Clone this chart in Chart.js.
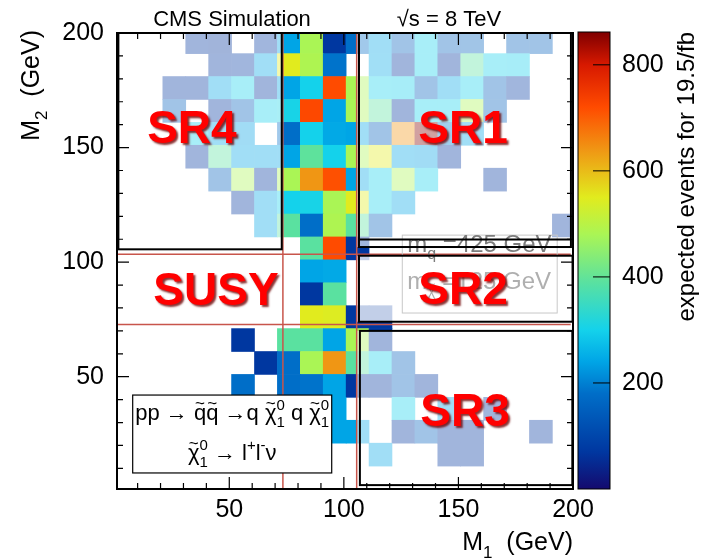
<!DOCTYPE html>
<html lang="en">
<head>
<meta charset="UTF-8">
<title>Expected events in the M1 - M2 plane</title>
<style>
  html, body { margin: 0; padding: 0; background: #fff; }
  #wrap { width: 701px; height: 560px; }
</style>
</head>
<body>
<div id="wrap"><canvas id="heat" width="701" height="560"></canvas></div>
<script src="https://cdn.jsdelivr.net/npm/chart.js@4.4.1/dist/chart.umd.min.js"></script>
<script>
const FONT = "'Liberation Sans', Arial, Helvetica, sans-serif";

// bin centres in GeV (10 GeV bins starting at 1 GeV)
const m1Centers = [6, 16, 26, 36, 46, 56, 66, 76, 86, 96, 106, 116, 126, 136, 146, 156, 166, 176, 186, 196];
// rows of the table below, top (M2 = 196) to bottom (M2 = 6)
const m2Centers = [196, 186, 176, 166, 156, 146, 136, 126, 116, 106, 96, 86, 76, 66, 56, 46, 36, 26, 16, 6];
// expected events for 19.5/fb, 0 = empty bin
const events = [
  [0, 0, 0, 70, 65, 0, 75, 240, 480, 70, 180, 240, 150, 300, 150, 155, 0, 150, 150, 0],
  [0, 0, 0, 0, 70, 75, 240, 550, 485, 185, 0, 245, 70, 300, 70, 390, 300, 295, 0, 0],
  [0, 0, 70, 70, 240, 300, 70, 240, 300, 720, 480, 300, 295, 150, 240, 300, 150, 75, 0, 0],
  [0, 0, 150, 0, 70, 150, 300, 305, 725, 240, 480, 390, 70, 300, 300, 480, 150, 0, 0, 0],
  [0, 0, 0, 300, 240, 235, 0, 180, 300, 245, 240, 150, 640, 860, 200, 240, 0, 0, 0, 0],
  [0, 0, 0, 70, 390, 240, 240, 240, 395, 300, 480, 550, 240, 235, 70, 0, 0, 0, 0, 0],
  [0, 0, 0, 0, 150, 480, 70, 480, 640, 715, 240, 300, 480, 300, 0, 0, 70, 0, 0, 0],
  [0, 0, 0, 0, 0, 70, 240, 300, 305, 480, 550, 300, 240, 0, 0, 0, 0, 0, 0, 0],
  [0, 0, 0, 0, 0, 0, 240, 390, 180, 485, 390, 150, 0, 0, 0, 0, 0, 0, 0, 70],
  [0, 0, 0, 0, 0, 0, 0, 0, 390, 720, 70, 0, 0, 0, 0, 0, 0, 0, 0, 0],
  [0, 0, 0, 0, 0, 0, 0, 0, 240, 245, 0, 0, 0, 0, 0, 0, 0, 0, 0, 0],
  [0, 0, 0, 0, 0, 0, 0, 0, 70, 390, 0, 0, 0, 0, 0, 0, 0, 0, 0, 0],
  [0, 0, 0, 0, 0, 0, 0, 0, 550, 545, 70, 70, 0, 0, 0, 0, 0, 0, 0, 0],
  [0, 0, 0, 0, 0, 70, 0, 390, 390, 240, 480, 70, 0, 0, 0, 0, 0, 0, 0, 0],
  [0, 0, 0, 0, 0, 0, 70, 180, 480, 640, 390, 300, 150, 0, 0, 0, 0, 0, 0, 0],
  [0, 0, 0, 0, 0, 180, 0, 180, 185, 240, 70, 70, 150, 70, 0, 0, 0, 0, 0, 0],
  [0, 0, 0, 0, 0, 0, 0, 0, 0, 240, 0, 0, 300, 0, 240, 0, 70, 0, 0, 0],
  [0, 0, 0, 0, 0, 0, 0, 0, 0, 240, 240, 0, 70, 150, 70, 70, 0, 0, 70, 0],
  [0, 0, 0, 0, 0, 0, 0, 0, 0, 0, 0, 240, 0, 0, 70, 70, 0, 0, 0, 0],
  [0, 0, 0, 0, 0, 0, 0, 0, 0, 0, 0, 0, 0, 0, 0, 0, 0, 0, 0, 0]
];
const m1Ticks = [50, 100, 150, 200];
const m2Ticks = [50, 100, 150, 200];
const zTicks = [200, 400, 600, 800];
const zMax = 860;

// palette stops: [events, r, g, b]
const palette = [
  [0, 20, 10, 110], [70, 0, 55, 160], [180, 0, 110, 200], [240, 0, 165, 230],
  [300, 20, 210, 235], [390, 90, 225, 160], [480, 170, 245, 85], [550, 225, 235, 30],
  [640, 240, 150, 20], [720, 255, 75, 0], [800, 215, 25, 0], [860, 130, 0, 0]
];
function colorFor(v) {
  for (let i = 1; i < palette.length; i++) {
    const p = palette[i - 1], q = palette[i];
    if (v <= q[0]) {
      const t = (v - p[0]) / (q[0] - p[0]);
      const c = [1, 2, 3].map(k => Math.round(p[k] + t * (q[k] - p[k])));
      return `rgb(${c[0]},${c[1]},${c[2]})`;
    }
  }
  const l = palette[palette.length - 1];
  return `rgb(${l[1]},${l[2]},${l[3]})`;
}

// annotation geometry, GeV
const fadedRegions = [
  { x0: 1, x1: 73.4, y0: 105.6, y1: 200, alpha: 0.63 },
  { x0: 105.6, x1: 200, y0: 106.6, y1: 200, alpha: 0.63 },
  { x0: 105.6, x1: 200, y0: 74.0, y1: 102.8, alpha: 0.76 },
  { x0: 105.6, x1: 200, y0: 1, y1: 70, alpha: 0.63 }
];
const srBoxes = [
  [1.6, 72.9, 105.6, 200],
  [106.6, 199.1, 106.6, 200],
  [106.6, 199.8, 74.0, 102.8],
  [107.0, 199.7, 2.7, 70.0]
];
const redM1 = [73.4, 105.6];
const redM2 = [103.5, 72.8];
const srLabels = [
  { text: 'SR4', m1: 33.7, m2: 157.7 },
  { text: 'SR1', m1: 152, m2: 157.7 },
  { text: 'SUSY', m1: 44.2, m2: 87 },
  { text: 'SR2', m1: 152, m2: 87.4 },
  { text: 'SR3', m1: 152.9, m2: 34.2 }
];

const cells = [];
const cellColors = [];
events.forEach((row, i) => {
  row.forEach((v, j) => {
    if (v > 0) {
      cells.push({ x: m1Centers[j], y: [m2Centers[i] - 5, m2Centers[i] + 5] });
      cellColors.push(colorFor(v));
    }
  });
});

// text with tildes and super/subscripts
// part: 'text' | {t, tilde} | {sup, sub, tilde}
function drawRich(ctx, parts, x, y, size, align) {
  const base = `${size}px ${FONT}`;
  const small = `${Math.round(size * 0.68)}px ${FONT}`;
  const widthOf = p => {
    if (typeof p === 'string') { ctx.font = base; return ctx.measureText(p).width; }
    if (p.t) { ctx.font = base; return ctx.measureText(p.t).width; }
    ctx.font = small;
    return Math.max(p.sup ? ctx.measureText(p.sup).width : 0, p.sub ? ctx.measureText(p.sub).width : 0);
  };
  const tildeAt = (cx, ty, fs) => {
    ctx.font = `${fs}px ${FONT}`;
    ctx.textAlign = 'center';
    ctx.fillText('~', cx, ty);
    ctx.textAlign = 'left';
  };
  const total = parts.reduce((s, p) => s + widthOf(p), 0);
  let cx = align === 'center' ? x - total / 2 : align === 'right' ? x - total : x;
  ctx.textAlign = 'left';
  ctx.textBaseline = 'alphabetic';
  parts.forEach(p => {
    const w = widthOf(p);
    if (typeof p === 'string') {
      ctx.font = base;
      ctx.fillText(p, cx, y);
    } else if (p.t) {
      ctx.font = base;
      ctx.fillText(p.t, cx, y);
      if (p.tilde) tildeAt(cx + w / 2, y - size * 0.48, Math.round(size * 0.75));
    } else {
      ctx.font = small;
      if (p.sup) ctx.fillText(p.sup, cx, y - size * 0.45);
      if (p.sub) {
        ctx.fillText(p.sub, cx, y + size * 0.3);
        if (p.tilde) tildeAt(cx + w / 2, y + size * 0.3 - size * 0.33, Math.round(size * 0.55));
      }
    }
    cx += w;
  });
}

const decor = {
  id: 'decor',
  afterDatasetsDraw(chart) {
    const { ctx, chartArea: a, scales: { x, y, z } } = chart;
    const px = v => x.getPixelForValue(v);
    const py = v => y.getPixelForValue(v);
    ctx.save();

    // faded signal regions
    fadedRegions.forEach(r => {
      ctx.fillStyle = `rgba(255,255,255,${r.alpha})`;
      ctx.fillRect(px(r.x0), py(r.y1), px(r.x1) - px(r.x0), py(r.y0) - py(r.y1));
    });

    // red boundary lines
    ctx.strokeStyle = 'rgb(200,85,75)';
    ctx.lineWidth = 1.5;
    redM1.forEach(v => { ctx.beginPath(); ctx.moveTo(px(v), a.top); ctx.lineTo(px(v), a.bottom); ctx.stroke(); });
    redM2.forEach(v => { ctx.beginPath(); ctx.moveTo(a.left, py(v)); ctx.lineTo(px(199), py(v)); ctx.stroke(); });

    // mass box
    ctx.strokeStyle = 'rgb(200,200,200)';
    ctx.lineWidth = 1;
    ctx.strokeRect(px(125.5), py(111.8), px(193.1) - px(125.5), py(77.8) - py(111.8));
    ctx.fillStyle = 'rgb(125,125,125)';
    drawRich(ctx, ['m', { sub: 'q', tilde: true }, ' =425 GeV'], px(125.5) + 5, py(104.5), 24, 'left');
    ctx.fillStyle = 'rgb(175,175,175)';
    drawRich(ctx, ['m', { sub: '\u03c7', tilde: true }, ' =125 GeV'], px(125.5) + 5, py(88.3), 24, 'left');

    // signal region boxes
    ctx.strokeStyle = '#000';
    ctx.lineWidth = 2;
    srBoxes.forEach(b => {
      ctx.strokeRect(px(b[0]), py(b[3]), px(b[1]) - px(b[0]), py(b[2]) - py(b[3]));
    });
    ctx.beginPath();
    ctx.moveTo(px(106.6), py(109.9));
    ctx.lineTo(px(199.1), py(109.9));
    ctx.stroke();

    // region labels
    ctx.font = `bold 46px ${FONT}`;
    ctx.textAlign = 'center';
    ctx.textBaseline = 'middle';
    ctx.shadowColor = 'rgba(110,0,0,0.8)';
    ctx.shadowOffsetX = 2;
    ctx.shadowOffsetY = 2;
    ctx.shadowBlur = 2;
    ctx.fillStyle = '#ff0000';
    srLabels.forEach(l => ctx.fillText(l.text, px(l.m1), py(l.m2)));
    ctx.shadowColor = 'transparent';
    ctx.shadowOffsetX = 0;
    ctx.shadowOffsetY = 0;
    ctx.shadowBlur = 0;

    // process legend
    const lx0 = px(7.85), lx1 = px(94.7), ly0 = py(42), ly1 = py(8);
    ctx.fillStyle = '#fff';
    ctx.fillRect(lx0, ly0, lx1 - lx0, ly1 - ly0);
    ctx.strokeStyle = '#000';
    ctx.lineWidth = 1.2;
    ctx.strokeRect(lx0, ly0, lx1 - lx0, ly1 - ly0);
    ctx.fillStyle = '#000';
    const chi = { t: '\u03c7', tilde: true };
    const q = { t: 'q', tilde: true };
    drawRich(ctx, ['pp \u2192 ', q, q, ' \u2192q ', chi, { sup: '0', sub: '1' }, ' q ', chi, { sup: '0', sub: '1' }],
      (lx0 + lx1) / 2, ly0 + 25, 22, 'center');
    drawRich(ctx, [chi, { sup: '0', sub: '1' }, ' \u2192 l', { sup: '+' }, 'l', { sup: '-' }, '\u03bd'],
      (lx0 + lx1) / 2, ly0 + 65, 22, 'center');

    // frame and inner ticks
    ctx.strokeStyle = '#000';
    ctx.lineWidth = 2;
    ctx.strokeRect(a.left, a.top, a.right - a.left, a.bottom - a.top);
    ctx.lineWidth = 1.2;
    ctx.beginPath();
    for (let v = 10; v <= 200; v += 10) {
      const len = v % 50 === 0 ? 12 : 6;
      const tx = px(v), ty = py(v);
      ctx.moveTo(tx, a.bottom); ctx.lineTo(tx, a.bottom - len);
      ctx.moveTo(tx, a.top); ctx.lineTo(tx, a.top + len);
      ctx.moveTo(a.left, ty); ctx.lineTo(a.left + len, ty);
      ctx.moveTo(a.right, ty); ctx.lineTo(a.right - len, ty);
    }
    ctx.stroke();

    // colour bar
    const cx0 = z.left + 5, cx1 = z.left + 37;
    const grad = ctx.createLinearGradient(0, z.getPixelForValue(0), 0, z.getPixelForValue(zMax));
    palette.forEach(p => grad.addColorStop(p[0] / zMax, `rgb(${p[1]},${p[2]},${p[3]})`));
    ctx.fillStyle = grad;
    ctx.fillRect(cx0, z.top - 1, cx1 - cx0, z.bottom - z.top + 1);
    ctx.lineWidth = 1;
    ctx.strokeRect(cx0, z.top - 1, cx1 - cx0, z.bottom - z.top + 1);
    ctx.beginPath();
    zTicks.forEach(v => { const t = z.getPixelForValue(v); ctx.moveTo(cx1 - 17, t); ctx.lineTo(cx1, t); });
    ctx.stroke();

    // titles
    ctx.fillStyle = '#000';
    ctx.save();
    ctx.translate(694, a.top - 1);
    ctx.rotate(-Math.PI / 2);
    ctx.font = `24px ${FONT}`;
    ctx.textAlign = 'right';
    ctx.textBaseline = 'alphabetic';
    ctx.fillText('expected events for 19.5/fb', 0, 0);
    ctx.restore();

    drawRich(ctx, ['M', { sub: '1' }, '  (GeV)'], a.right, 550, 25, 'right');
    ctx.save();
    ctx.translate(39, a.top - 3);
    ctx.rotate(-Math.PI / 2);
    drawRich(ctx, ['M', { sub: '2' }, '  (GeV)'], 0, 0, 25, 'right');
    ctx.restore();

    ctx.font = `22px ${FONT}`;
    ctx.textAlign = 'center';
    ctx.textBaseline = 'alphabetic';
    ctx.fillText('CMS Simulation', 232, 26);
    ctx.fillText('\u221as = 8 TeV', 449, 26);
    ctx.restore();
  }
};

const fixedTicks = list => s => { s.ticks = list.map(v => ({ value: v })); };

Chart.defaults.font.family = FONT;
Chart.defaults.color = '#000';

new Chart(document.getElementById('heat'), {
  type: 'bar',
  data: {
    datasets: [{
      data: cells,
      backgroundColor: cellColors,
      borderWidth: 0,
      barPercentage: 1,
      categoryPercentage: 1
    }]
  },
  options: {
    responsive: false,
    animation: false,
    events: [],
    layout: { padding: { top: 33, left: 0, right: 0, bottom: 0 } },
    plugins: { legend: { display: false }, tooltip: { enabled: false } },
    scales: {
      x: {
        type: 'linear', position: 'bottom', min: 1, max: 200, offset: false,
        grid: { display: false }, border: { display: false },
        ticks: { font: { size: 25 }, padding: -2, maxRotation: 0 },
        afterBuildTicks: fixedTicks(m1Ticks),
        afterFit: s => { s.height = 71; s.paddingLeft = 0; s.paddingRight = 0; }
      },
      y: {
        type: 'linear', position: 'left', min: 1, max: 200,
        grid: { display: false }, border: { display: false },
        ticks: { font: { size: 25 }, padding: 5 },
        afterBuildTicks: fixedTicks(m2Ticks),
        afterFit: s => { s.width = 117; s.paddingTop = 0; s.paddingBottom = 0; }
      },
      z: {
        type: 'linear', position: 'right', min: 0, max: zMax,
        grid: { display: false }, border: { display: false },
        ticks: { font: { size: 25 }, padding: 41 },
        afterBuildTicks: fixedTicks(zTicks),
        afterFit: s => { s.width = 128; s.paddingTop = 0; s.paddingBottom = 0; }
      }
    }
  },
  plugins: [decor]
});
</script>
</body>
</html>
